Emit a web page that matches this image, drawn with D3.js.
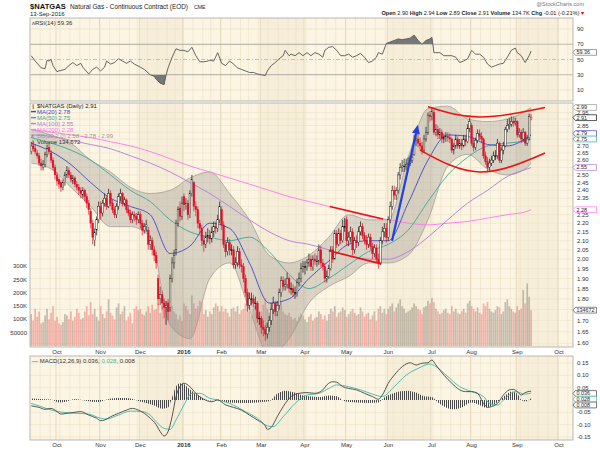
<!DOCTYPE html>
<html><head><meta charset="utf-8">
<script src="https://cdn.jsdelivr.net/npm/d3@7"></script>
<style>body{margin:0;background:#fff;}svg{display:block;font-family:"Liberation Sans",Arial,sans-serif;}</style>
</head><body><svg id="c" width="600" height="450"></svg>
<script>
// ---------- DATA ----------
const closeS = [2.70,2.68,2.66,2.63,2.58,2.56,2.57,2.64,2.68,2.66,2.60,2.55,2.50,
2.46,2.44,2.42,2.45,2.50,2.53,2.50,2.47,2.48,2.44,2.42,2.40,2.38,2.40,2.36,2.32,2.28,2.20,2.12,2.15,2.22,2.30,
2.26,2.32,2.35,2.30,2.38,2.32,2.28,2.25,2.30,2.36,2.38,2.32,2.34,2.28,2.26,2.22,2.25,2.24,2.22,2.25,
2.20,2.16,2.18,2.19,2.08,2.10,2.05,2.02,1.98,1.80,1.82,1.78,1.76,1.77,1.74,1.90,1.98,2.02,2.20,2.28,2.24,2.32,
2.31,2.32,2.25,2.38,2.47,2.30,2.28,2.20,2.17,2.10,2.08,2.12,2.13,2.11,2.15,2.18,2.17,2.22,2.30,
2.19,2.08,2.04,2.09,2.05,2.05,1.97,1.98,2.04,1.97,1.96,1.90,1.83,1.77,1.80,1.80,1.78,1.78,1.71,1.71,
1.67,1.66,1.64,1.67,1.70,1.75,1.78,1.74,1.77,1.83,1.89,1.86,1.87,1.90,1.85,1.85,1.83,1.83,1.88,1.90,1.95,1.96,
1.96,1.98,2.00,1.96,2.00,1.99,1.99,2.05,1.98,1.96,1.90,1.91,1.95,2.05,2.00,2.14,2.08,2.14,2.10,2.18,2.18,
2.10,2.12,2.15,2.05,2.10,2.09,2.15,2.18,2.13,2.10,2.08,2.12,2.07,2.03,2.06,2.00,1.98,2.10,2.15,2.17,2.12,
2.22,2.30,2.40,2.37,2.40,2.50,2.55,2.56,2.56,2.57,2.58,2.60,2.62,2.74,2.75,2.72,2.70,2.67,2.75,2.80,2.93,2.92,
2.96,2.80,2.82,2.78,2.80,2.75,2.76,2.77,2.76,2.75,2.67,2.70,2.75,2.70,2.72,2.70,2.75,2.73,2.83,2.88,
2.72,2.69,2.74,2.79,2.77,2.75,2.63,2.59,2.55,2.58,2.60,2.63,2.63,2.72,2.60,2.67,2.70,2.82,2.85,2.86,2.88,2.87,2.88,
2.78,2.80,2.75,2.80,2.72,2.75,2.92,2.91];
const openS = [2.66,2.70,2.68,2.65,2.63,2.58,2.55,2.57,2.64,2.69,2.65,2.60,2.55,
2.50,2.47,2.45,2.42,2.45,2.50,2.53,2.50,2.46,2.48,2.44,2.42,2.40,2.37,2.40,2.36,2.32,2.27,2.20,2.10,2.16,2.22,
2.30,2.26,2.32,2.35,2.30,2.38,2.32,2.28,2.25,2.30,2.36,2.38,2.32,2.34,2.28,2.26,2.22,2.25,2.24,2.22,
2.25,2.20,2.16,2.18,2.16,2.08,2.10,2.05,2.02,1.90,1.80,1.82,1.78,1.76,1.78,1.76,1.90,1.98,2.05,2.20,2.29,2.24,
2.36,2.31,2.32,2.25,2.38,2.45,2.30,2.28,2.20,2.17,2.10,2.08,2.12,2.13,2.11,2.15,2.18,2.17,2.22,
2.28,2.19,2.08,2.04,2.09,2.05,2.05,1.97,1.98,2.04,1.97,1.96,1.90,1.83,1.77,1.80,1.80,1.78,1.78,1.71,
1.71,1.67,1.66,1.64,1.67,1.70,1.75,1.78,1.74,1.77,1.83,1.89,1.86,1.87,1.90,1.85,1.85,1.83,1.83,1.88,1.90,1.95,
1.96,1.96,1.98,2.00,1.96,2.00,1.99,1.99,2.05,1.98,1.96,1.90,1.91,1.95,2.05,2.00,2.14,2.08,2.14,2.10,2.18,
2.22,2.10,2.12,2.15,2.05,2.10,2.09,2.15,2.18,2.13,2.10,2.08,2.12,2.07,2.03,2.06,2.00,1.98,2.10,2.15,2.17,
2.12,2.22,2.30,2.40,2.37,2.40,2.50,2.55,2.56,2.56,2.57,2.58,2.60,2.64,2.74,2.75,2.72,2.70,2.67,2.75,2.80,2.93,
2.92,2.95,2.80,2.82,2.78,2.80,2.75,2.76,2.77,2.76,2.75,2.67,2.70,2.75,2.70,2.72,2.70,2.75,2.73,2.83,
2.85,2.72,2.69,2.74,2.79,2.77,2.75,2.63,2.59,2.55,2.58,2.60,2.63,2.63,2.72,2.60,2.67,2.70,2.82,2.85,2.86,2.88,2.87,
2.88,2.78,2.80,2.75,2.80,2.72,2.76,2.90];
const highS = [2.73,2.73,2.71,2.67,2.65,2.61,2.60,2.66,2.71,2.72,2.67,2.62,2.57,
2.52,2.49,2.47,2.47,2.52,2.56,2.55,2.52,2.50,2.49,2.46,2.44,2.42,2.42,2.41,2.38,2.34,2.29,2.22,2.17,2.24,2.33,
2.33,2.34,2.38,2.37,2.41,2.40,2.34,2.30,2.32,2.38,2.41,2.39,2.36,2.35,2.30,2.28,2.27,2.27,2.26,2.27,
2.27,2.22,2.20,2.22,2.18,2.13,2.12,2.07,2.04,1.92,1.86,1.84,1.80,1.79,1.80,1.92,2.01,2.05,2.22,2.30,2.33,2.36,
2.38,2.35,2.34,2.40,2.50,2.46,2.33,2.30,2.22,2.19,2.13,2.15,2.17,2.16,2.18,2.21,2.21,2.25,2.33,
2.30,2.21,2.10,2.12,2.11,2.08,2.07,2.01,2.07,2.06,2.00,1.98,1.92,1.85,1.83,1.83,1.82,1.81,1.79,1.74,
1.72,1.70,1.68,1.69,1.72,1.78,1.81,1.79,1.79,1.85,1.91,1.91,1.90,1.93,1.91,1.88,1.87,1.86,1.90,1.93,1.98,1.99,
1.99,2.00,2.03,2.02,2.02,2.03,2.02,2.08,2.07,2.00,1.98,1.94,1.97,2.07,2.07,2.16,2.16,2.17,2.16,2.22,2.23,
2.24,2.15,2.18,2.17,2.12,2.13,2.18,2.21,2.20,2.15,2.13,2.14,2.14,2.09,2.08,2.08,2.03,2.12,2.18,2.20,2.20,
2.24,2.33,2.43,2.43,2.42,2.52,2.58,2.60,2.61,2.61,2.62,2.63,2.65,2.78,2.80,2.79,2.76,2.73,2.78,2.84,2.95,2.96,
2.99,2.97,2.86,2.85,2.83,2.82,2.79,2.80,2.80,2.79,2.76,2.72,2.78,2.77,2.75,2.75,2.78,2.78,2.86,2.91,
2.87,2.76,2.76,2.82,2.82,2.80,2.76,2.66,2.62,2.61,2.63,2.66,2.67,2.75,2.73,2.69,2.73,2.84,2.90,2.91,2.92,2.92,2.91,
2.89,2.83,2.82,2.83,2.81,2.78,2.94,2.94];
const lowS = [2.64,2.66,2.64,2.61,2.56,2.53,2.53,2.55,2.62,2.64,2.58,2.53,2.47,
2.43,2.41,2.39,2.40,2.43,2.48,2.48,2.45,2.44,2.42,2.40,2.37,2.35,2.35,2.33,2.29,2.25,2.17,2.08,2.07,2.13,2.20,
2.22,2.24,2.30,2.28,2.29,2.30,2.26,2.23,2.23,2.28,2.33,2.30,2.30,2.26,2.24,2.20,2.20,2.21,2.19,2.20,
2.17,2.13,2.14,2.15,2.05,2.05,2.02,1.99,1.95,1.77,1.77,1.75,1.71,1.68,1.70,1.74,1.88,1.95,2.02,2.18,2.21,2.22,
2.27,2.28,2.22,2.23,2.36,2.27,2.24,2.17,2.14,2.07,2.04,2.06,2.09,2.08,2.09,2.12,2.14,2.15,2.20,
2.16,2.06,2.01,2.02,2.02,2.02,1.95,1.95,1.96,1.95,1.93,1.88,1.81,1.74,1.75,1.77,1.76,1.75,1.69,1.68,
1.64,1.63,1.61,1.62,1.65,1.68,1.73,1.72,1.72,1.75,1.81,1.84,1.84,1.85,1.83,1.82,1.81,1.80,1.81,1.86,1.88,1.93,
1.92,1.94,1.96,1.94,1.94,1.97,1.96,1.97,1.96,1.94,1.88,1.88,1.90,1.94,1.98,2.00,2.06,2.07,2.08,2.09,2.15,
2.07,2.07,2.09,2.02,2.03,2.06,2.07,2.13,2.11,2.08,2.05,2.06,2.05,2.00,2.01,1.98,1.95,1.97,2.08,2.12,2.09,
2.10,2.20,2.28,2.34,2.34,2.38,2.47,2.52,2.52,2.53,2.54,2.56,2.58,2.63,2.70,2.69,2.67,2.64,2.65,2.73,2.78,2.88,
2.89,2.78,2.77,2.75,2.75,2.72,2.72,2.73,2.73,2.72,2.65,2.64,2.68,2.68,2.68,2.67,2.69,2.70,2.72,2.80,
2.70,2.66,2.67,2.72,2.74,2.72,2.61,2.57,2.52,2.53,2.56,2.58,2.60,2.61,2.58,2.58,2.64,2.69,2.80,2.82,2.84,2.84,2.85,
2.76,2.76,2.72,2.73,2.70,2.70,2.74,2.89];
const volumeK = [120,95,140,110,130,85,90,115,140,100,125,150,95,
110,85,80,90,120,115,100,130,95,110,140,125,100,105,130,150,115,165,120,140,110,95,
150,120,105,130,175,125,115,100,145,160,120,130,150,95,110,125,85,140,150,135,
140,120,115,130,150,125,155,135,140,160,125,150,180,170,165,140,150,130,120,100,115,95,
160,150,135,120,190,160,140,150,170,165,120,135,110,130,120,145,160,150,130,
150,130,140,125,110,140,145,130,150,120,135,140,160,155,130,115,140,150,120,110,
130,155,180,140,125,145,160,130,120,140,165,130,120,115,125,110,100,105,95,110,120,115,
100,90,110,120,95,105,110,130,120,100,115,95,120,140,130,150,110,125,130,145,135,
110,120,130,140,125,115,120,145,130,110,120,125,100,115,130,95,140,150,125,140,120,
140,150,160,130,145,160,175,150,140,125,130,135,145,160,150,140,135,120,145,150,170,160,
180,165,140,130,120,125,135,140,125,120,150,130,140,125,120,130,140,125,160,170,
150,140,130,145,125,120,160,150,165,140,130,125,135,150,145,120,130,165,175,150,140,130,125,
150,135,140,210,160,235,185,134.672];
// sampled overlays (trading-day index, value)
const maDays  = [0,10,20,30,40,50,60,70,80,90,100,110,120,130,140,150,160,170,180,190,200,210,220,230,240,250,252];
const ma20    = [2.72,2.66,2.57,2.45,2.35,2.30,2.25,2.03,2.07,2.20,2.17,1.98,1.78,1.80,1.90,1.99,2.08,2.10,2.10,2.32,2.60,2.78,2.77,2.71,2.70,2.76,2.78];
const ma50    = [2.76,2.72,2.67,2.60,2.50,2.40,2.33,2.22,2.15,2.12,2.10,2.12,2.04,1.92,1.85,1.90,1.97,2.04,2.08,2.16,2.33,2.50,2.62,2.70,2.72,2.74,2.75];
const ma100   = [2.78,2.77,2.74,2.71,2.68,2.63,2.58,2.52,2.45,2.38,2.30,2.22,2.15,2.10,2.08,2.05,2.02,2.00,2.00,2.04,2.12,2.22,2.32,2.40,2.49,2.54,2.55];
const ma200   = [2.82,2.80,2.78,2.76,2.73,2.70,2.66,2.61,2.56,2.52,2.48,2.44,2.40,2.36,2.33,2.30,2.27,2.24,2.22,2.20,2.19,2.20,2.21,2.23,2.25,2.27,2.28];
const bbUpper = [2.82,2.78,2.72,2.60,2.52,2.42,2.38,2.40,2.48,2.52,2.38,2.22,2.02,1.98,2.02,2.12,2.25,2.22,2.22,2.62,2.98,3.00,2.90,2.88,2.90,2.97,2.99];
const bbLower = [2.58,2.54,2.42,2.30,2.18,2.18,2.12,1.68,1.62,1.90,1.98,1.75,1.55,1.62,1.78,1.86,1.91,1.98,1.98,2.02,2.22,2.56,2.64,2.54,2.50,2.55,2.58];
const rsiDays = [0,2,5,7,8,9,10,11,13,14,17,19,21,23,25,26,29,31,33,35,37,38,40,42,44,46,48,50,52,55,57,60,62,63,65,67,68,69,71,73,75,77,79,81,83,85,87,89,90,92,94,96,98,100,102,104,106,108,110,112,114,116,118,119,121,123,125,127,128,130,131,133,135,137,139,141,143,145,147,148,150,152,154,156,158,160,162,164,166,168,170,172,174,175,177,179,181,183,185,187,189,191,193,195,197,199,201,202,203,204,206,208,210,212,214,216,218,220,222,224,226,228,230,232,234,236,238,240,242,244,245,247,249,251,252];
const rsiVals = [55,48,39,38,49,48,50,42,34,35,37,42,46,42,45,40,31,37,40,35,40,48,44,46,51,48,45,48,44,40,37,30,28,24,19,17,30,39,53,64,62,62,60,66,55,47,47,48,49,48,59,45,42,48,44,39,37,35,33,33,31,30,29,35,42,46,51,55,62,55,57,55,59,55,59,55,59,57,53,62,66,67,62,55,55,57,53,55,58,53,46,48,53,59,57,71,73,75,77,76,77,78,82,75,70,75,77,79,59,59,59,55,55,55,53,46,48,51,62,57,57,53,44,40,42,44,45,53,62,65,59,55,46,55,61,59.36];
const macdDays = [0,4,7,10,13,15,18,21,25,29,33,35,37,40,44,48,51,54,57,60,63,65,67,69,71,73,75,77,80,83,87,91,94,98,102,106,110,114,118,119,121,124,127,131,135,139,143,147,149,152,154,157,160,164,168,172,175,177,180,183,187,191,194,197,200,202,204,208,212,216,219,222,225,228,230,232,235,238,241,243,245,247,249,252];
const macdVals = [-0.024,-0.030,-0.038,-0.034,-0.047,-0.057,-0.054,-0.051,-0.047,-0.061,-0.074,-0.084,-0.081,-0.068,-0.054,-0.041,-0.034,-0.041,-0.054,-0.074,-0.100,-0.128,-0.146,-0.128,-0.068,0.014,0.054,0.068,0.054,0.027,0.003,-0.007,0.000,-0.020,-0.030,-0.041,-0.061,-0.081,-0.105,-0.119,-0.111,-0.068,-0.027,0.014,0.027,0.030,0.027,0.041,0.061,0.074,0.072,0.054,0.047,0.041,0.027,0.014,0.003,0.020,0.068,0.101,0.135,0.151,0.142,0.149,0.151,0.162,0.142,0.101,0.068,0.041,0.034,0.034,0.027,-0.014,-0.030,-0.027,-0.014,0.020,0.041,0.043,0.034,0.020,0.030,0.036];
const sigDays = [0,4,9,15,23,29,35,38,44,50,56,60,63,67,70,73,77,81,85,90,94,100,108,114,119,122,127,133,139,145,150,154,160,166,172,177,183,189,195,201,204,210,216,222,228,231,235,239,244,249,252];
const sigVals = [-0.014,-0.024,-0.038,-0.049,-0.054,-0.057,-0.074,-0.077,-0.061,-0.045,-0.047,-0.061,-0.088,-0.115,-0.119,-0.081,-0.020,0.027,0.027,0.007,0.000,-0.014,-0.047,-0.074,-0.105,-0.108,-0.068,-0.014,0.020,0.027,0.047,0.061,0.054,0.041,0.024,0.014,0.054,0.101,0.128,0.146,0.135,0.095,0.054,0.034,0.014,-0.014,-0.020,0.007,0.034,0.024,0.028];
const histDays = [0,5,10,14,18,22,28,34,40,46,50,54,58,62,66,69,71,73,75,77,79,82,86,90,94,98,104,110,116,120,124,128,132,136,140,146,150,154,158,164,170,175,178,182,186,190,194,198,202,205,209,213,217,222,226,229,233,237,240,242,245,247,249,252];
const histVals = [0.006,0.004,0.002,-0.010,-0.006,0.004,-0.004,-0.008,0.006,0.008,0.006,-0.004,-0.012,-0.022,-0.035,-0.030,0.010,0.055,0.068,0.065,0.050,0.030,0.010,-0.002,0.002,-0.008,-0.012,-0.012,-0.008,-0.005,0.025,0.038,0.032,0.020,0.015,0.012,0.018,0.015,-0.005,-0.010,-0.012,-0.010,0.010,0.025,0.035,0.038,0.030,0.015,0.012,-0.010,-0.030,-0.038,-0.030,-0.010,-0.020,-0.030,-0.020,0.005,0.025,0.034,0.025,0.000,-0.006,0.008];
// annotations drawn on the chart (trading-day index, price)
const wedgeTop = [[150.6,2.30],[177.3,2.225]];
const wedgeBot = [[150.0,2.045],[176.5,1.975]];
const arrowLine = [[181.9,2.10],[194.9,2.855]];
const arcTop = [[200,2.995],[226,2.915],[259,2.99]];
const arcBot = [[196,2.67],[226,2.52],[259,2.65]];
// axis labels
const priceTicks = d3.range(1.60,2.96,0.05).map(v=>+v.toFixed(2));
const volTicks = [50000,100000,150000,200000,250000,300000];
const volTickLabels = ["50000","100K","150K","200K","250K","300K"];
const rsiTicks = [10,30,50,70,90];
const macdTicks = [-0.15,-0.10,-0.05,0.05,0.10,0.15];
const holidays = ["2015-11-26","2015-12-25","2016-01-01","2016-01-18","2016-02-15","2016-03-25","2016-05-30","2016-07-04","2016-09-05"];

// ---------- LAYOUT ----------
const svg = d3.select("#c");
const L=30, R=573;
const P = {rsi:[18,101], main:[103,347], macd:[356,440]};
const BG="#fcf5e3", GRID="#ebe0c6";
const x = d3.scaleLinear().domain([-0.6,273.1]).range([L,R]);
const yP = d3.scaleLog().domain([1.6,2.8]).range([343.3,132.2]);
const yV = d3.scaleLinear().domain([0,50000]).range([346,332.7]);
const yR = d3.scaleLinear().domain([10,90]).range([90,29]);
const yM = d3.scaleLinear().domain([-0.15,0.15]).range([437,363]);

const fmt = d3.timeFormat("%Y-%m-%d");
const dates=[]; {let d=new Date(2015,8,14); while(dates.length<275){const w=d.getDay(); if(w&&w!==6&&!holidays.includes(fmt(d))) dates.push(new Date(d)); d.setDate(d.getDate()+1);}}
const monthStarts=[]; dates.forEach((d,i)=>{ if(i>0 && d.getMonth()!==dates[i-1].getMonth()) monthStarts.push(i); });
const mNames=["Jan","Feb","Mar","Apr","May","Jun","Jul","Aug","Sep","Oct","Nov","Dec"];

const defs = svg.append("defs");
Object.entries(P).forEach(([k,[t,b]])=>{
  defs.append("clipPath").attr("id","clip-"+k).append("rect").attr("x",L).attr("y",t).attr("width",R-L).attr("height",b-t);
});
const pat = defs.append("pattern").attr("id","vl").attr("width",2).attr("height",4).attr("patternUnits","userSpaceOnUse");
pat.append("rect").attr("width",1).attr("height",4).attr("fill","#4a4a4a");

function panel(k){
  const [t,b]=P[k];
  const g = svg.append("g");
  g.append("rect").attr("x",L).attr("y",t).attr("width",R-L).attr("height",b-t).attr("fill",BG);
  monthStarts.forEach((m,j)=>{ if(dates[m].getMonth()%3===2){ const e=monthStarts[j+1]||273.1;
    g.append("rect").attr("x",x(m-0.5)).attr("y",t).attr("width",Math.min(R,x(e-0.5))-x(m-0.5)).attr("height",b-t).attr("fill","#f3e9d2").attr("opacity",0.6);} });
  dates.forEach((d,i)=>{ if(i>0 && d.getDay()<dates[i-1].getDay()){ g.append("line").attr("x1",x(i-0.5)).attr("x2",x(i-0.5)).attr("y1",t).attr("y2",b).attr("stroke",GRID).attr("stroke-width",0.6);} });
  monthStarts.forEach(m=>g.append("line").attr("x1",x(m-0.5)).attr("x2",x(m-0.5)).attr("y1",t).attr("y2",b).attr("stroke","#ddd0b2").attr("stroke-width",0.7));
  return g;
}
function frame(k){ const [t,b]=P[k]; svg.append("rect").attr("x",L).attr("y",t).attr("width",R-L).attr("height",b-t).attr("fill","none").attr("stroke","#a9a9a9").attr("stroke-width",0.8); }
function tag(y,text,color){
  const g=svg.append("g");
  g.append("path").attr("d",`M${R},${y} l2.5,-2.9 h21 v5.8 h-21 z`).attr("fill","#fff").attr("stroke",color).attr("stroke-width",0.7);
  g.append("text").attr("x",R+3.5).attr("y",y+1.9).attr("font-size",5.4).attr("fill","#222").text(text);
}
const rtext=(y,t)=>svg.append("text").attr("x",R+4).attr("y",y+2.1).attr("font-size",6).attr("fill","#333").text(t);

// ---------- HEADER ----------
svg.append("text").attr("x",30).attr("y",8.5).attr("font-size",7.6).attr("font-weight","bold").attr("fill","#111").text("$NATGAS");
svg.append("text").attr("x",70).attr("y",8.5).attr("font-size",6.4).attr("fill","#222").text("Natural Gas - Continuous Contract (EOD)");
svg.append("text").attr("x",194).attr("y",8.5).attr("font-size",5.2).attr("fill","#222").text("CME");
svg.append("text").attr("x",30).attr("y",15.5).attr("font-size",6).attr("fill","#222").text("13-Sep-2016");
svg.append("text").attr("x",584).attr("y",5.5).attr("font-size",5.5).attr("fill","#777").attr("text-anchor","end").text("@StockCharts.com");
const hdr = svg.append("text").attr("x",584).attr("y",14.5).attr("font-size",5.6).attr("fill","#222").attr("text-anchor","end");
[["Open",1],[" 2.90 ",0],["High",1],[" 2.94 ",0],["Low",1],[" 2.89 ",0],["Close",1],[" 2.91 ",0],["Volume",1],[" 134.7K ",0],["Chg",1],[" -0.01 (-0.21%) ",0]].forEach(([t,b])=>hdr.append("tspan").attr("font-weight",b?"bold":"normal").text(t));
hdr.append("tspan").attr("fill","#d00").text("\u25BE");

// ---------- RSI PANEL ----------
panel("rsi");
[10,90].forEach(v=>svg.append("line").attr("x1",L).attr("x2",R).attr("y1",yR(v)).attr("y2",yR(v)).attr("stroke",GRID).attr("stroke-width",0.7));
[30,70].forEach(v=>svg.append("line").attr("x1",L).attr("x2",R).attr("y1",yR(v)).attr("y2",yR(v)).attr("stroke","#b8b4a8").attr("stroke-width",0.9));
svg.append("line").attr("x1",L).attr("x2",R).attr("y1",yR(50)).attr("y2",yR(50)).attr("stroke","#b8b4a8").attr("stroke-width",0.8).attr("stroke-dasharray","4,2,1,2");
const rsiPts = rsiDays.map((d,i)=>[d,rsiVals[i]]);
const gR = svg.append("g").attr("clip-path","url(#clip-rsi)");
defs.append("clipPath").attr("id","rsiHi").append("rect").attr("x",L).attr("y",P.rsi[0]).attr("width",R-L).attr("height",yR(70)-P.rsi[0]);
defs.append("clipPath").attr("id","rsiLo").append("rect").attr("x",L).attr("y",yR(30)).attr("width",R-L).attr("height",P.rsi[1]-yR(30));
gR.append("path").attr("clip-path","url(#rsiHi)").attr("d",d3.area().x(d=>x(d[0])).y0(yR(70)).y1(d=>yR(d[1]))(rsiPts)).attr("fill","#777");
gR.append("path").attr("clip-path","url(#rsiLo)").attr("d",d3.area().x(d=>x(d[0])).y0(yR(30)).y1(d=>yR(d[1]))(rsiPts)).attr("fill","#777");
gR.append("path").attr("d",d3.line().x(d=>x(d[0])).y(d=>yR(d[1]))(rsiPts)).attr("fill","none").attr("stroke","#555").attr("stroke-width",0.9);
frame("rsi");
rsiTicks.forEach(v=>rtext(yR(v),String(v)));
tag(yR(59.36),"59.36","#777");
svg.append("text").attr("x",32).attr("y",24.5).attr("font-size",6).attr("fill","#333").text("\u028CRSI(14) 59.36");

// ---------- MAIN PANEL ----------
panel("main");
const gM = svg.append("g").attr("clip-path","url(#clip-main)");
priceTicks.forEach(v=>gM.append("line").attr("x1",L).attr("x2",R).attr("y1",yP(v)).attr("y2",yP(v)).attr("stroke",GRID).attr("stroke-width",0.6));
volumeK.forEach((v,i)=>{
  const up = i===0 ? closeS[0]>=openS[0] : closeS[i]>=closeS[i-1];
  gM.append("rect").attr("x",x(i)-0.85).attr("width",1.7).attr("y",yV(v*1000)).attr("height",yV(0)-yV(v*1000))
    .attr("fill",up?"rgba(150,140,128,0.55)":"rgba(236,120,120,0.55)");
});
const bbPts = maDays.map((d,i)=>[d,bbUpper[i],bbLower[i]]);
gM.append("path").attr("d",d3.area().curve(d3.curveMonotoneX).x(d=>x(d[0])).y0(d=>yP(d[2])).y1(d=>yP(d[1]))(bbPts)).attr("fill","rgba(150,145,140,0.33)");
[1,2].forEach(k=>gM.append("path").attr("d",d3.line().curve(d3.curveMonotoneX).x(d=>x(d[0])).y(d=>yP(d[k]))(bbPts)).attr("fill","none").attr("stroke","#9a9690").attr("stroke-width",0.7));
const maLine = (vals,col)=>gM.append("path").attr("d",d3.line().curve(d3.curveMonotoneX).x((d,i)=>x(maDays[i])).y(d=>yP(d))(vals)).attr("fill","none").attr("stroke",col).attr("stroke-width",0.9);
maLine(ma200,"#ff77ee"); maLine(ma100,"#b27ae0"); maLine(ma50,"#3aa898"); maLine(ma20,"#4444c8");
closeS.forEach((c,i)=>{
  const o=openS[i], h=highS[i], l=lowS[i];
  const prev = i===0 ? o : closeS[i-1];
  const col = c<prev ? "#e0102a" : "#111";
  const cx = x(i);
  gM.append("line").attr("x1",cx).attr("x2",cx).attr("y1",yP(h)).attr("y2",yP(l)).attr("stroke",col).attr("stroke-width",0.7);
  const top=yP(Math.max(o,c)), bot=yP(Math.min(o,c));
  gM.append("rect").attr("x",cx-0.85).attr("width",1.7).attr("y",top).attr("height",Math.max(0.7,bot-top))
    .attr("fill",c>o?BG:col).attr("stroke",col).attr("stroke-width",0.4);
});
const annLine = d3.line().x(d=>x(d[0])).y(d=>yP(d[1]));
const annCurve = d3.line().curve(d3.curveNatural).x(d=>x(d[0])).y(d=>yP(d[1]));
[annLine(wedgeTop),annLine(wedgeBot),annCurve(arcTop),annCurve(arcBot)].forEach(p=>gM.append("path").attr("d",p).attr("stroke","#ee1111").attr("stroke-width",1.6).attr("fill","none"));
{ const [a,b]=arrowLine.map(d=>[x(d[0]),yP(d[1])]);
  const ang=Math.atan2(b[1]-a[1],b[0]-a[0]), len=9, wd=4;
  const bx=b[0]-len*Math.cos(ang), by=b[1]-len*Math.sin(ang);
  gM.append("line").attr("x1",a[0]).attr("y1",a[1]).attr("x2",bx).attr("y2",by).attr("stroke","#1f3fe0").attr("stroke-width",2.2);
  gM.append("path").attr("d",`M${b[0]},${b[1]} L${bx+wd*Math.sin(ang)},${by-wd*Math.cos(ang)} L${bx-wd*Math.sin(ang)},${by+wd*Math.cos(ang)} Z`).attr("fill","#1f3fe0");
}
frame("main");
const mainTags = [[yP(2.99),"2.99","#999"],[yP(2.91),"2.91","#111"],[yP(2.79),"2.79","#4444c8"],[yP(2.75),"2.75","#3aa898"],[yP(2.55),"2.55","#b27ae0"],[yP(2.28),"2.28","#ff77ee"],[yV(134672),"134672","#555"]];
priceTicks.forEach(v=>{ const yy=yP(v); if(mainTags.some(t=>Math.abs(t[0]-yy)<3.6)) return; rtext(yy,v.toFixed(2)); });
mainTags.forEach(t=>tag(...t));
volTicks.forEach((v,i)=>svg.append("text").attr("x",27).attr("y",yV(v)+2).attr("font-size",6).attr("fill","#333").attr("text-anchor","end").text(volTickLabels[i]));
const lg = [["$NATGAS (Daily) 2.91","#222"],["MA(20) 2.78","#4444c8"],["MA(50) 2.75","#3aa898"],["MA(100) 2.55","#b27ae0"],["MA(200) 2.28","#ff77ee"],["BB(20,2.0) 2.58 - 2.78 - 2.99","#999"],["Volume 134,672","#333"]];
lg.forEach(([t,c],j)=>{
  const yy=107.5+j*6;
  if(j>=1&&j<=4) svg.append("rect").attr("x",31).attr("y",yy-2.6).attr("width",5).attr("height",1.4).attr("fill",c);
  else svg.append("text").attr("x",31).attr("y",yy).attr("font-size",5).attr("fill","#555").text(j===5?"\u028C":"\u2759");
  svg.append("text").attr("x",37).attr("y",yy).attr("font-size",6).attr("fill",c).text(t);
});

// ---------- MACD PANEL ----------
panel("macd");
macdTicks.forEach(v=>svg.append("line").attr("x1",L).attr("x2",R).attr("y1",yM(v)).attr("y2",yM(v)).attr("stroke",GRID).attr("stroke-width",0.6));
const gC = svg.append("g").attr("clip-path","url(#clip-macd)");
const hPts = histDays.map((d,i)=>[d,histVals[i]]);
gC.append("path").attr("d",d3.area().curve(d3.curveMonotoneX).x(d=>x(d[0])).y0(yM(0)).y1(d=>yM(d[1]))(hPts)).attr("fill","url(#vl)");
gC.append("path").attr("d",d3.line().curve(d3.curveMonotoneX).x((d,i)=>x(sigDays[i])).y(d=>yM(d))(sigVals)).attr("fill","none").attr("stroke","#3cb8a6").attr("stroke-width",0.9);
gC.append("path").attr("d",d3.line().curve(d3.curveMonotoneX).x((d,i)=>x(macdDays[i])).y(d=>yM(d))(macdVals)).attr("fill","none").attr("stroke","#444").attr("stroke-width",0.9);
frame("macd");
macdTicks.forEach(v=>rtext(yM(v),v.toFixed(2)));
tag(yM(0)-6.5,"0.036","#444");
tag(yM(0)-0.8,"0.028","#3cb8a6");
tag(yM(0)+5,"0.008","#444");
const ml = svg.append("text").attr("x",32).attr("y",362.5).attr("font-size",6).attr("fill","#333");
ml.append("tspan").text("\u2014 MACD(12,26,9) 0.036, ");
ml.append("tspan").attr("fill","#3cb8a6").text("0.028");
ml.append("tspan").text(", 0.008");

// ---------- X AXIS LABELS ----------
[P.main[1]+6.5, P.macd[1]+6.5].forEach(yy=>{
  monthStarts.forEach(m=>{
    const d=dates[m]; if(x(m)>R-3) return;
    const isJan = d.getMonth()===0;
    svg.append("text").attr("x",x(m)).attr("y",yy).attr("font-size",6).attr("text-anchor","middle")
      .attr("font-weight",isJan?"bold":"normal").attr("fill","#333").text(isJan?String(d.getFullYear()):mNames[d.getMonth()]);
  });
});
</script></body></html>
